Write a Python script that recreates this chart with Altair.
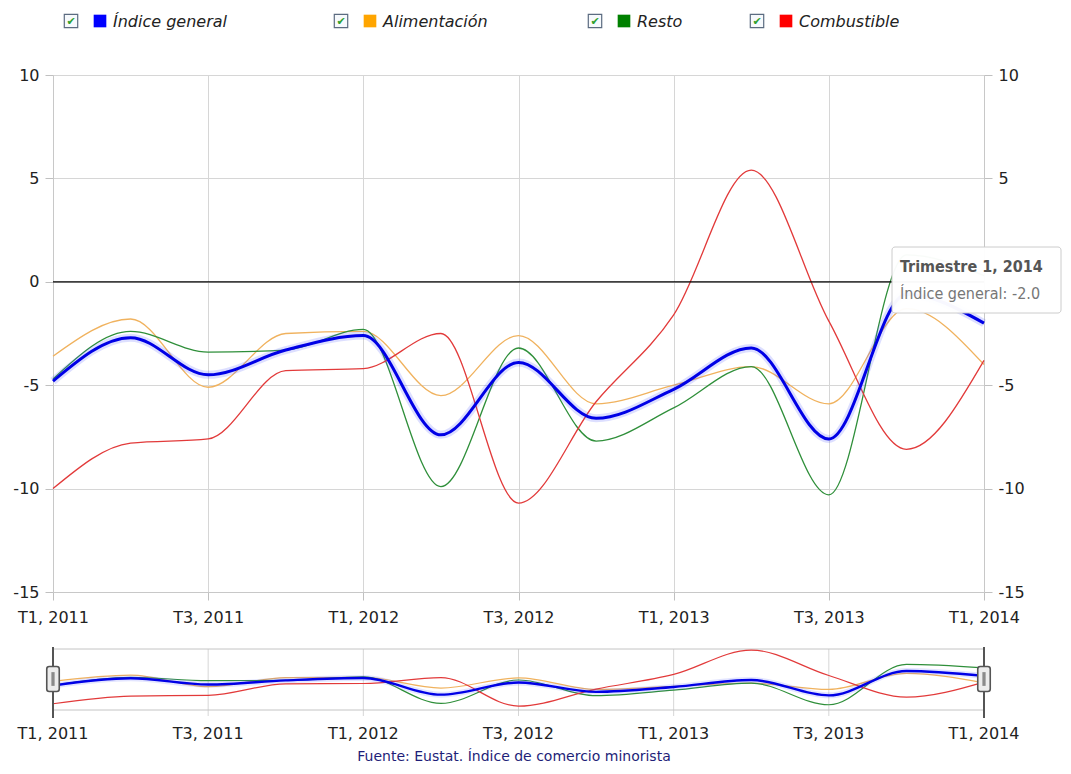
import altair as alt
import pandas as pd

quarters = ["T1, 2011", "T2, 2011", "T3, 2011", "T4, 2011",
            "T1, 2012", "T2, 2012", "T3, 2012", "T4, 2012",
            "T1, 2013", "T2, 2013", "T3, 2013", "T4, 2013", "T1, 2014"]
series = ["Índice general", "Alimentación", "Resto", "Combustible"]
indice_general = [-4.8, -2.7, -4.5, -3.3, -2.6, -7.4, -3.9, -6.6, -5.2, -3.2, -7.6, -0.6, -2.0]
alimentacion = [-3.6, -1.8, -5.1, -2.5, -2.4, -5.5, -2.6, -5.9, -5.0, -4.1, -5.9, -1.3, -4.0]
resto = [-4.7, -2.4, -3.4, -3.3, -2.3, -9.9, -3.2, -7.7, -6.1, -4.1, -10.3, 1.3, 0.3]
combustible = [-10.0, -7.8, -7.6, -4.3, -4.2, -2.5, -10.7, -5.8, -1.6, 5.4, -1.9, -8.1, -3.8]
y_ticks = [-15, -10, -5, 0, 5, 10]
y_ticks_right = [-15, -10, -5, 5, 10]   # the 0 label is hidden under the tooltip
source_text = "Fuente: Eustat. Índice de comercio minorista"
tooltip_title = "Trimestre 1, 2014"
tooltip_body = "Índice general: -2.0"

rows = []
for name, vals in zip(series, [indice_general, alimentacion, resto, combustible]):
    for q, v in zip(quarters, vals):
        rows.append({"q": q, "serie": name, "value": v})
df = pd.DataFrame(rows)
df_blue = df[df.serie == series[0]]
df_rest = df[df.serie != series[0]]

W, H = 931, 517
FONT = "DejaVu Sans"
line_colors = ["#0000e6", "#f0b25e", "#2f8f3a", "#e23a3a"]
legend_colors = ["#0000ff", "#ffa500", "#008000", "#ff0000"]
GRID = "#d6d6d6"
LABEL_EXPR = "toString(datum.value)"

x_enc = alt.X("q:O", sort=quarters, title=None,
              scale=alt.Scale(type="point", padding=0),
              axis=alt.Axis(values=quarters[::2], labelAngle=0, grid=True, gridColor=GRID,
                            domainColor="#c8c8c8", tickColor="#c0c0c0", tickSize=8,
                            labelFont=FONT, labelFontSize=16, labelColor="#222",
                            labelPadding=9))
main_scale = alt.Scale(domain=[-15, 10], nice=False, zero=False)
nav_scale = alt.Scale(domain=[-11.8, 5.7], nice=False, zero=False, range=[635, 574])

y_left = alt.Y("value:Q", scale=main_scale, title=None,
               axis=alt.Axis(values=y_ticks, grid=True, gridColor=GRID, domainColor="#c8c8c8",
                             tickColor="#c0c0c0", tickSize=8, labelFont=FONT, labelFontSize=16,
                             labelColor="#222", labelPadding=6, labelExpr=LABEL_EXPR))
y_none = alt.Y("value:Q", scale=main_scale, axis=None)
y_nav = alt.Y("value:Q", scale=nav_scale, axis=None)
color_enc = alt.Color("serie:N", scale=alt.Scale(domain=series, range=line_colors), legend=None)

# main series
thin = alt.Chart(df_rest).mark_line(interpolate="monotone", strokeWidth=1.3).encode(
    x=x_enc, y=y_left, color=color_enc, detail="serie:N")
glow = alt.Chart(df_blue).mark_line(interpolate="monotone", strokeWidth=8, color="#4050ff",
                                   opacity=0.18).encode(x=x_enc, y=y_none)
blue = alt.Chart(df_blue).mark_line(interpolate="monotone", strokeWidth=3,
                                   color=line_colors[0]).encode(x=x_enc, y=y_none)

zero = alt.Chart(pd.DataFrame({"value": [0]})).mark_rule(color="#000", strokeWidth=1.3).encode(
    y=alt.Y("value:Q", scale=main_scale, title=None,
            axis=alt.Axis(orient="right", values=y_ticks_right, grid=False, domainColor="#c8c8c8",
                          tickColor="#c0c0c0", tickSize=8, labelFont=FONT, labelFontSize=16,
                          labelColor="#222", labelPadding=6, labelExpr=LABEL_EXPR)))

# navigator
tick_df = pd.DataFrame({"q": quarters[::2]})
nav_grid = alt.Chart(tick_df).mark_rule(color=GRID).encode(
    x=x_enc, y=alt.value(574), y2=alt.value(641))
nav_top = alt.Chart(tick_df.head(1)).mark_rule(color="#c4c4c4").encode(
    x=alt.value(0), x2=alt.value(W), y=alt.value(574))
nav_bot = alt.Chart(tick_df.head(1)).mark_rule(color="#c4c4c4").encode(
    x=alt.value(0), x2=alt.value(W), y=alt.value(635))
nav_thin = alt.Chart(df_rest).mark_line(interpolate="monotone", strokeWidth=1.2).encode(
    x=x_enc, y=y_nav, color=color_enc, detail="serie:N")
nav_glow = alt.Chart(df_blue).mark_line(interpolate="monotone", strokeWidth=6, color="#4050ff",
                                       opacity=0.15).encode(x=x_enc, y=y_nav)
nav_blue = alt.Chart(df_blue).mark_line(interpolate="monotone", strokeWidth=2.4,
                                       color=line_colors[0]).encode(x=x_enc, y=y_nav)
nav_labels = alt.Chart(tick_df).mark_text(font=FONT, fontSize=16, color="#222").encode(
    x=x_enc, text="q:N", y=alt.value(659))
ends_df = pd.DataFrame({"q": [quarters[0], quarters[-1]]})
handle_line = alt.Chart(ends_df).mark_rule(color="#555", strokeWidth=2).encode(
    x=x_enc, y=alt.value(572), y2=alt.value(643))
handle_path = ("M -0.3 -1 L 0.3 -1 Q 0.5 -1 0.5 -0.8 L 0.5 0.8 Q 0.5 1 0.3 1 L -0.3 1 "
               "Q -0.5 1 -0.5 0.8 L -0.5 -0.8 Q -0.5 -1 -0.3 -1 Z")
handle = alt.Chart(ends_df).mark_point(shape=handle_path, size=625, filled=True, fill="#ececec",
                                       stroke="#555", strokeWidth=1.6, opacity=1).encode(
    x=x_enc, y=alt.value(604))
grip = alt.Chart(ends_df).mark_point(shape="M -0.13 -0.55 L 0.13 -0.55 L 0.13 0.55 L -0.13 0.55 Z",
                                     size=625, filled=True, fill="#8a8a8a", opacity=1).encode(
    x=x_enc, y=alt.value(604))
source = alt.Chart(pd.DataFrame({"t": [source_text]})).mark_text(
    font=FONT, fontSize=14, color="#1e1e78").encode(text="t:N", x=alt.value(461), y=alt.value(682))

# legend
legend_x = [47, 317, 571, 733]
legend_layers = []
for name, col, cx in zip(series, legend_colors, legend_x):
    d = pd.DataFrame({"t": [name]})
    legend_layers.append(alt.Chart(d).mark_point(shape="square", size=180, filled=True, fill="#f6f9fc",
                                                 stroke="#5b6b80", strokeWidth=1.2, opacity=1).encode(
        x=alt.value(cx - 29), y=alt.value(-54)))
    legend_layers.append(alt.Chart(d).mark_text(text="✔", font=FONT, fontSize=11, color="#2ea02e").encode(
        x=alt.value(cx - 29), y=alt.value(-53)))
    legend_layers.append(alt.Chart(d).mark_point(shape="square", size=160, filled=True, fill=col,
                                                 opacity=1).encode(
        x=alt.value(cx), y=alt.value(-54)))
    legend_layers.append(alt.Chart(d).mark_text(font=FONT, fontSize=16, fontStyle="italic", align="left",
                                                color="#222").encode(
        text="t:N", x=alt.value(cx + 13), y=alt.value(-53)))

# tooltip
tip_d = pd.DataFrame({"t": [tooltip_title], "b": [tooltip_body]})
tip_box = alt.Chart(tip_d).mark_rect(fill="#ffffff", opacity=0.97, stroke="#cccccc", strokeWidth=1,
                                     cornerRadius=3).encode(
    x=alt.value(839), x2=alt.value(1008), y=alt.value(172), y2=alt.value(238))
tip_t = alt.Chart(tip_d).mark_text(font="DejaVu Sans Condensed", fontSize=16, fontWeight="bold",
                                   color="#555", align="left").encode(
    text="t:N", x=alt.value(847), y=alt.value(192))
tip_b = alt.Chart(tip_d).mark_text(font="DejaVu Sans Condensed", fontSize=16, color="#777",
                                   align="left").encode(
    text="b:N", x=alt.value(847), y=alt.value(219))

chart = alt.layer(
    thin, glow, blue, zero,
    nav_grid, nav_top, nav_bot, nav_thin, nav_glow, nav_blue, nav_labels,
    handle_line, handle, grip, source,
    *legend_layers,
    tip_box, tip_t, tip_b,
).resolve_scale(y="independent").properties(
    width=W, height=H,
    padding={"left": 4, "top": 3, "right": 0, "bottom": 0},
).configure_view(stroke=None).configure(background="white")

chart.save("out.html", embed_options={"renderer": "svg", "actions": False})
